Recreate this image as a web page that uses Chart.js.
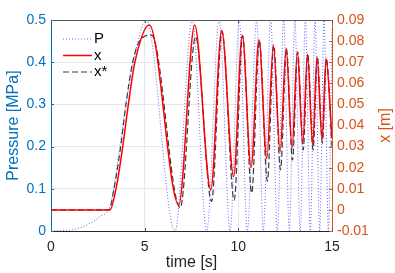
<!DOCTYPE html>
<html>
<head>
<meta charset="utf-8">
<script src="https://cdn.jsdelivr.net/npm/chart.js@4/dist/chart.umd.min.js"></script>
<style>
  html, body { margin: 0; padding: 0; background: #fff; }
</style>
</head>
<body>
<canvas id="chart1" width="395" height="273"></canvas>
<script>
// pressure P [MPa]
const pTime  = [0, 1, 2, 2.6, 3.15, 3.35, 3.67, 4.0, 4.4, 5.08, 6.62, 7.54, 8.31, 8.98, 9.56, 10.05, 10.48, 10.98, 11.33, 11.73, 12.08, 12.42, 12.72, 13.02, 13.3, 13.58, 13.84, 14.1, 14.34, 14.58, 14.81, 15]
const pValue = [0, 0.002, 0.016, 0.034, 0.058, 0.1, 0.2, 0.3, 0.4, 0.5, 0, 0.5, 0, 0.5, 0, 0.5, 0, 0.5, 0, 0.5, 0, 0.5, 0, 0.5, 0, 0.5, 0, 0.5, 0, 0.5, 0, 0.48]

// position x [m]
const xTime  = [0, 3.15, 3.47, 3.83, 4.13, 4.48, 5.25, 6.82, 7.67, 8.53, 9.11, 9.75, 10.21, 10.68, 11.1, 11.52, 11.87, 12.23, 12.55, 12.87, 13.15, 13.44, 13.69, 13.97, 14.2, 14.47, 14.68, 15]
const xValue = [0, 0, 0.01, 0.03, 0.05, 0.07, 0.0876, 0.0024, 0.0876, 0.0094, 0.0852, 0.0158, 0.0828, 0.0202, 0.0806, 0.0244, 0.0782, 0.0276, 0.0766, 0.0292, 0.075, 0.0316, 0.0738, 0.0308, 0.0726, 0.0332, 0.0718, 0.034]

// reference x* [m]
const xsTime  = [0, 3.1, 3.36, 3.72, 4.0, 4.36, 4.75, 5.37, 6.9, 7.72, 8.57, 9.13, 9.78, 10.23, 10.71, 11.12, 11.55, 11.89, 12.25, 12.57, 12.89, 13.17, 13.46, 13.71, 13.99, 14.22, 14.49, 14.7, 15]
const xsValue = [0, 0, 0.01, 0.03, 0.05, 0.07, 0.0804, 0.0828, 0.001, 0.082, 0.004, 0.0845, 0.0046, 0.0825, 0.008, 0.0803, 0.0136, 0.078, 0.019, 0.0763, 0.0236, 0.0748, 0.0284, 0.0736, 0.0284, 0.0724, 0.0316, 0.0716, 0.03]

const timeTicks = [0, 5, 10, 15]
const pressureTicks = [0, 0.1, 0.2, 0.3, 0.4, 0.5]
const posTicks = [-0.01, 0, 0.01, 0.02, 0.03, 0.04, 0.05, 0.06, 0.07, 0.08, 0.09]

const blue = '#0072BD'
const orange = '#D95319'
const dark = '#262626'

Chart.defaults.font.family = '"Liberation Sans", Arial, sans-serif'

function toPoints(ts, vs) {
    return ts.map((t, i) => ({x: t, y: vs[i]}))
}

// legend inside the axes, MATLAB style
const insideLegend = {
    id: 'insideLegend',
    afterDatasetsDraw(chart) {
        const {ctx, chartArea: a} = chart
        chart.data.datasets.forEach((ds, i) => {
            const y = a.top + 19 + i * 16.5
            ctx.save()
            ctx.strokeStyle = ds.borderColor
            ctx.lineWidth = ds.borderWidth
            ctx.setLineDash(ds.borderDash || [])
            ctx.beginPath()
            ctx.moveTo(a.left + 12, y)
            ctx.lineTo(a.left + 41, y)
            ctx.stroke()
            ctx.fillStyle = '#000'
            ctx.font = '15px "Liberation Sans", Arial, sans-serif'
            ctx.textBaseline = 'middle'
            ctx.fillText(ds.label, a.left + 43, y)
            ctx.restore()
        })
    }
}

// inward ticks, top border and right label
const axesExtras = {
    id: 'axesExtras',
    afterDraw(chart) {
        const {ctx, chartArea: a, scales} = chart
        const len = 3
        ctx.save()
        ctx.lineWidth = 1
        ctx.strokeStyle = '#555'
        ctx.beginPath()
        ctx.moveTo(a.left, a.top + 0.5)
        ctx.lineTo(a.right, a.top + 0.5)
        scales.x.ticks.forEach(t => {
            const px = Math.round(scales.x.getPixelForValue(t.value)) + 0.5
            ctx.moveTo(px, a.bottom)
            ctx.lineTo(px, a.bottom - len)
            ctx.moveTo(px, a.top)
            ctx.lineTo(px, a.top + len)
        })
        ctx.stroke()

        ctx.strokeStyle = blue
        ctx.beginPath()
        scales.y.ticks.forEach(t => {
            const py = Math.round(scales.y.getPixelForValue(t.value)) + 0.5
            ctx.moveTo(a.left, py)
            ctx.lineTo(a.left + len, py)
        })
        ctx.stroke()

        ctx.strokeStyle = orange
        ctx.beginPath()
        scales.y1.ticks.forEach(t => {
            const py = Math.round(scales.y1.getPixelForValue(t.value)) + 0.5
            ctx.moveTo(a.right, py)
            ctx.lineTo(a.right - len, py)
        })
        ctx.stroke()

        ctx.translate(386, (a.top + a.bottom) / 2)
        ctx.rotate(-Math.PI / 2)
        ctx.fillStyle = orange
        ctx.font = '16px "Liberation Sans", Arial, sans-serif'
        ctx.textAlign = 'center'
        ctx.textBaseline = 'middle'
        ctx.fillText('x [m]', 0, 0)
        ctx.restore()
    }
}

const data = {
    datasets: [{
        label: 'P',
        data: toPoints(pTime, pValue),
        yAxisID: 'y',
        borderColor: 'rgba(50,50,255,0.75)',
        borderWidth: 1,
        borderDash: [1, 2],
        pointRadius: 0,
        cubicInterpolationMode: 'monotone'
    }, {
        label: 'x',
        data: toPoints(xTime, xValue),
        yAxisID: 'y1',
        borderColor: '#ff0000',
        borderWidth: 1.5,
        pointRadius: 0,
        cubicInterpolationMode: 'monotone'
    }, {
        label: 'x*',
        data: toPoints(xsTime, xsValue),
        yAxisID: 'y1',
        borderColor: '#3a3a3a',
        borderWidth: 1.2,
        borderDash: [6, 3],
        pointRadius: 0,
        cubicInterpolationMode: 'monotone'
    }]
}

const options = {
    responsive: false,
    animation: false,
    events: [],
    layout: { padding: { top: 20, left: 0, right: 0, bottom: 0 } },
    plugins: {
        legend: { display: false },
        tooltip: { enabled: false }
    },
    scales: {
        x: {
            type: 'linear',
            min: 0,
            max: 15,
            afterBuildTicks: s => { s.ticks = timeTicks.map(v => ({value: v})) },
            afterFit: s => { s.height = 42 },
            ticks: { color: dark, font: { size: 14 }, padding: 8, maxRotation: 0, callback: v => String(v) },
            grid: { color: '#e4e8ee', drawTicks: false },
            border: { color: dark },
            title: { display: true, text: 'time [s]', color: dark, font: { size: 16 }, padding: { top: 0, bottom: 1 } }
        },
        y: {
            position: 'left',
            min: 0,
            max: 0.5,
            afterBuildTicks: s => { s.ticks = pressureTicks.map(v => ({value: v})) },
            afterFit: s => { s.width = 51 },
            ticks: { color: blue, font: { size: 14 }, padding: 5, callback: v => v === 0 ? '0' : v.toFixed(1) },
            grid: { color: '#e4e8ee', drawTicks: false },
            border: { color: blue },
            title: { display: true, text: 'Pressure [MPa]', color: blue, font: { size: 16 }, padding: { top: 4, bottom: 0 } }
        },
        y1: {
            position: 'right',
            min: -0.01,
            max: 0.09,
            afterBuildTicks: s => { s.ticks = posTicks.map(v => ({value: v})) },
            afterFit: s => { s.width = 63 },
            ticks: { color: orange, font: { size: 14 }, padding: 5, callback: v => Math.abs(v) < 1e-9 ? '0' : v.toFixed(2) },
            grid: { display: false, drawTicks: false },
            border: { color: orange }
        }
    }
}

new Chart('chart1', { type: 'line', data, options, plugins: [insideLegend, axesExtras] })
</script>
</body>
</html>
